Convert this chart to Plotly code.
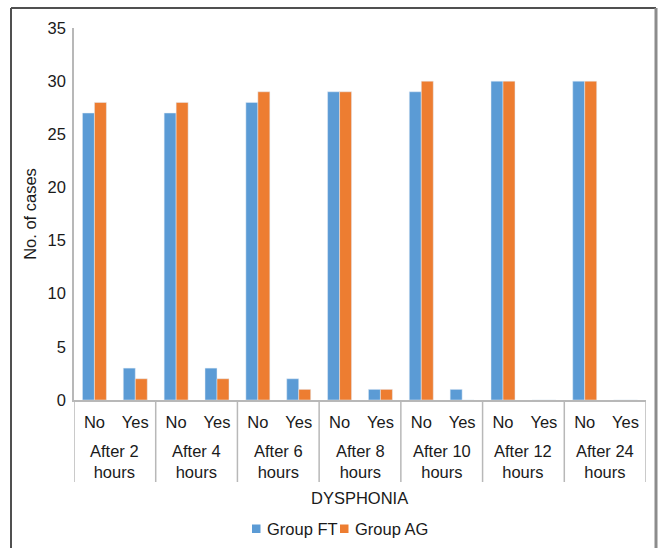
import plotly.graph_objects as go

# Dysphonia counts per observation time, split by answer
times = ["After 2<br>hours", "After 4<br>hours", "After 6<br>hours", "After 8<br>hours",
         "After 10<br>hours", "After 12<br>hours", "After 24<br>hours"]
answers = ["No", "Yes"]

series_names = ["Group FT", "Group AG"]
series_colors = ["#5b9bd5", "#ed7d31"]

ft_no = [27, 27, 28, 29, 29, 30, 30]
ft_yes = [3, 3, 2, 1, 1, 0, 0]
ag_no = [28, 28, 29, 29, 30, 30, 30]
ag_yes = [2, 2, 1, 1, 0, 0, 0]

n_ans = len(answers)
slots = list(range(len(times) * n_ans))
inner = [a for _ in times for a in answers]
ft_vals = [v for pair in zip(ft_no, ft_yes) for v in pair]
ag_vals = [v for pair in zip(ag_no, ag_yes) for v in pair]

W, H = 659, 548
L, R, T, B = 74, 13, 28, 148
pw, ph = W - L - R, H - T - B


def px_x(x):
    return (x - L) / pw


def px_y(y):
    return (H - B - y) / ph


FONT = "Liberation Sans, Arial, sans-serif"
FS = 16.5
TXT = "#1a1a1a"
AXIS = "#b8b8b8"

fig = go.Figure()
for name, vals, col in zip(series_names, [ft_vals, ag_vals], series_colors):
    fig.add_trace(go.Bar(x=slots, y=vals, name=name, marker_color=col, showlegend=False))

shapes = []
annotations = []
# group labels under the answer ticks, with dividers between groups
for i, t in enumerate(times):
    annotations.append(dict(
        x=i * n_ans + (n_ans - 1) / 2, xref="x", y=px_y(461), yref="paper",
        text=t, showarrow=False, xanchor="center", yanchor="middle",
        font=dict(family=FONT, size=FS, color=TXT),
    ))
for k in range(len(times) + 1):
    xb = k * n_ans - 0.5
    shapes.append(dict(type="line", xref="x", yref="paper", x0=xb, x1=xb,
                       y0=0, y1=px_y(482), line=dict(color=AXIS, width=1.5)))

# compact legend: colour key squares followed by series names
key_left = [252, 340]
for name, col, kx in zip(series_names, series_colors, key_left):
    shapes.append(dict(type="rect", xref="paper", yref="paper",
                       x0=px_x(kx), x1=px_x(kx + 8.5), y0=px_y(533), y1=px_y(524.5),
                       fillcolor=col, line=dict(width=0)))
    annotations.append(dict(
        x=px_x(kx + 13), xref="paper", y=px_y(529), yref="paper", text=name,
        showarrow=False, xanchor="left", yanchor="middle",
        font=dict(family=FONT, size=FS, color=TXT),
    ))

# outer frame around the chart
shapes += [
    dict(type="line", xref="paper", yref="paper", x0=px_x(11), x1=px_x(656), y0=px_y(8), y1=px_y(8),
         line=dict(color="#505050", width=2)),
    dict(type="line", xref="paper", yref="paper", x0=px_x(11), x1=px_x(11), y0=px_y(8), y1=px_y(560),
         line=dict(color="#505050", width=2)),
    dict(type="line", xref="paper", yref="paper", x0=px_x(656), x1=px_x(656), y0=px_y(8), y1=px_y(560),
         line=dict(color="#8c8c8c", width=3)),
]

annotations.append(dict(
    x=px_x(359), xref="paper", y=px_y(498), yref="paper", text="DYSPHONIA",
    showarrow=False, xanchor="center", yanchor="middle",
    font=dict(family=FONT, size=FS, color=TXT),
))

fig.update_layout(
    width=W, height=H,
    margin=dict(l=L, r=R, t=T, b=B, autoexpand=False),
    paper_bgcolor="white", plot_bgcolor="white",
    barmode="group", bargap=0.413, bargroupgap=0,
    font=dict(family=FONT, size=FS, color=TXT),
    showlegend=False,
    xaxis=dict(
        range=[-0.5, len(slots) - 0.5],
        tickmode="array", tickvals=slots, ticktext=inner,
        showline=True, linecolor=AXIS, linewidth=1.5,
        showgrid=False, zeroline=False, ticks="",
        ticklabelstandoff=6,
        tickfont=dict(family=FONT, size=FS, color=TXT),
    ),
    yaxis=dict(
        range=[0, 35], dtick=5, showgrid=False, zeroline=False,
        showline=True, linecolor=AXIS, linewidth=1.5, ticks="",
        tickfont=dict(family=FONT, size=FS, color=TXT), ticklabelstandoff=3,
        title=dict(text="No. of cases", font=dict(family=FONT, size=FS, color=TXT), standoff=7),
    ),
    shapes=shapes,
    annotations=annotations,
)

fig.write_html("out.html")
